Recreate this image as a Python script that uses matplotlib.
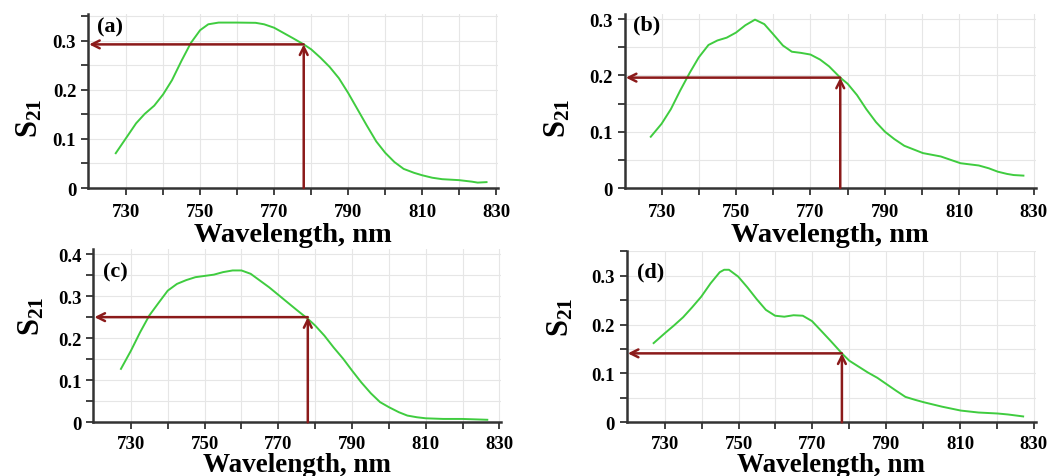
import matplotlib
matplotlib.use("Agg")
import matplotlib.pyplot as plt
from matplotlib.ticker import MultipleLocator, FixedLocator

plt.rcParams['font.family'] = ['Liberation Serif', 'DejaVu Serif']
plt.rcParams['font.weight'] = 'bold'
plt.rcParams['mathtext.fontset'] = 'custom'
plt.rcParams['mathtext.bf'] = 'Liberation Serif:bold'
plt.rcParams['mathtext.rm'] = 'Liberation Serif:bold'

# transmission spectra S21 for the four structures
wl_a = [727.2, 730, 732.7, 735, 737.6, 740, 742.4, 745, 747.5, 750, 752.2, 755, 760,
        765, 767.3, 770, 775, 778, 780, 782.5, 785, 787.5, 790, 792.5, 795, 797.6,
        800, 802.5, 805, 807.8, 810, 812.7, 815.4, 820, 823.4, 825, 827.4]
s21_a = [0.071, 0.102, 0.132, 0.151, 0.168, 0.191, 0.220, 0.260, 0.296, 0.322, 0.334,
         0.3375, 0.3375, 0.337, 0.334, 0.327, 0.306, 0.293, 0.283, 0.266, 0.247, 0.224,
         0.194, 0.161, 0.128, 0.095, 0.072, 0.053, 0.039, 0.031, 0.026, 0.021, 0.018,
         0.016, 0.013, 0.011, 0.012]

wl_b = [727.1, 730, 732.5, 735, 737.6, 740, 742.6, 745, 747.5, 750, 752.5, 755.1, 757.6,
        760, 762.6, 765, 767.4, 770, 772.6, 775, 778, 780, 782.5, 785, 787.6, 790,
        792.5, 795.2, 800.2, 805, 810.3, 815.2, 817.9, 820.3, 822.8, 824.6, 827.2]
s21_b = [0.091, 0.114, 0.140, 0.173, 0.205, 0.232, 0.254, 0.262, 0.267, 0.276, 0.289,
         0.299, 0.291, 0.273, 0.253, 0.242, 0.240, 0.237, 0.228, 0.216, 0.196, 0.185,
         0.165, 0.140, 0.117, 0.100, 0.087, 0.075, 0.062, 0.056, 0.044, 0.040, 0.035,
         0.029, 0.025, 0.023, 0.022]

wl_c = [727.3, 730, 732.5, 735, 737.6, 740, 742.5, 745, 747.5, 750, 752.5, 755, 757.6,
        760, 762.5, 765, 767.5, 770, 772.5, 775, 778, 780, 782.5, 785, 787.6, 790,
        792.5, 795.1, 797.6, 800, 802.7, 805, 807.6, 810, 814.7, 819.8, 826.7]
s21_c = [0.127, 0.170, 0.214, 0.254, 0.285, 0.313, 0.329, 0.338, 0.345, 0.348, 0.351,
         0.357, 0.361, 0.361, 0.353, 0.337, 0.321, 0.303, 0.285, 0.267, 0.246, 0.230,
         0.206, 0.178, 0.151, 0.123, 0.095, 0.069, 0.048, 0.036, 0.024, 0.016, 0.012,
         0.0095, 0.008, 0.008, 0.006]

wl_d = [727, 730, 732.5, 735, 737.4, 739.9, 742.4, 744.9, 746.1, 747.4, 749.9, 752.4,
        754.9, 757.4, 759.9, 762.4, 764.9, 767.4, 769.9, 772.4, 775, 778, 780, 782.5,
        785, 787.6, 790.1, 792.6, 795.2, 797.8, 800.2, 805.1, 810.2, 815, 820.2, 823, 827.1]
s21_d = [0.162, 0.182, 0.198, 0.215, 0.235, 0.257, 0.284, 0.307, 0.312, 0.312, 0.298,
         0.276, 0.252, 0.230, 0.218, 0.216, 0.219, 0.218, 0.207, 0.187, 0.166, 0.141,
         0.126, 0.114, 0.102, 0.091, 0.078, 0.065, 0.052, 0.046, 0.041, 0.032, 0.024,
         0.020, 0.018, 0.016, 0.012]

marker_nm = 778                       # operating wavelength
marker_s21 = [0.293, 0.196, 0.250, 0.141]
panel_tags = ['(a)', '(b)', '(c)', '(d)']
y_tops = [0.355, 0.309, 0.412, 0.351]
x_labels = [730, 750, 770, 790, 810, 830]

series = [(wl_a, s21_a), (wl_b, s21_b), (wl_c, s21_c), (wl_d, s21_d)]

# axes boxes in figure fractions (left, bottom, width, height)
boxes = [
    [88 / 1055, 1 - 189 / 477, 410 / 1055, 174 / 477],
    [624.7 / 1055, 1 - 189 / 477, 411 / 1055, 174 / 477],
    [93.3 / 1055, 1 - 423.3 / 477, 408 / 1055, 173.3 / 477],
    [626.7 / 1055, 1 - 423.3 / 477, 409 / 1055, 171.6 / 477],
]
x_lefts = [719.7, 720.1, 719.8, 719.7]
ylabel_xy = [(-0.105, 0.408), (-0.126, 0.408), (-0.114, 0.62), (-0.124, 0.62)]
tag_xy = [(0.022, 0.985), (0.02, 1.0), (0.024, 0.93), (0.025, 0.94)]
xtick_pads = [6, 6, 4, 4]
xlabel_pads = [1, 1, 0, 0]
xlabel_sizes = [20.5, 20.5, 19.5, 19.5]

fig = plt.figure(figsize=(10.55, 4.77), dpi=100)

green = '#3fcc3f'
darkred = '#8b1a1a'

for i, (wl, s21) in enumerate(series):
    ax = fig.add_axes(boxes[i])
    ax.set_xlim(x_lefts[i], 830.5)
    ax.set_ylim(0, y_tops[i])

    # light grid
    for gx in range(730, 831, 10):
        ax.axvline(gx, color='#e6e6e6', lw=0.8, zorder=0)
    gy = 0.05
    while gy < y_tops[i]:
        ax.axhline(gy, color='#e6e6e6', lw=0.8, zorder=0)
        gy += 0.05

    ax.plot(wl, s21, color=green, lw=1.4, zorder=3, solid_joinstyle='round')

    # arrows marking S21 at the operating wavelength
    ax.annotate('', xy=(marker_nm, marker_s21[i]), xytext=(marker_nm, 0),
                arrowprops=dict(arrowstyle='->', color=darkred, lw=1.8,
                                shrinkA=0, shrinkB=0, mutation_scale=14), zorder=4)
    ax.annotate('', xy=(x_lefts[i] + 0.3, marker_s21[i]), xytext=(marker_nm, marker_s21[i]),
                arrowprops=dict(arrowstyle='->', color=darkred, lw=1.8,
                                shrinkA=0, shrinkB=0, mutation_scale=14), zorder=4)

    ax.xaxis.set_major_locator(FixedLocator(x_labels))
    ax.xaxis.set_minor_locator(FixedLocator([740, 760, 780, 800, 820]))
    ax.yaxis.set_major_locator(MultipleLocator(0.1))
    ax.yaxis.set_minor_locator(MultipleLocator(0.05))
    ax.yaxis.set_major_formatter(plt.FuncFormatter(lambda v, p: '0' if v == 0 else f'{v:.1f}'))

    ax.tick_params(axis='both', which='both', direction='out', color='#333333',
                   width=1.3, length=5, labelsize=13.5)
    ax.tick_params(axis='x', which='major', pad=xtick_pads[i])
    for lab in ax.get_xticklabels() + ax.get_yticklabels():
        lab.set_fontweight('bold')

    for side in ['top', 'right']:
        ax.spines[side].set_visible(False)
    for side in ['left', 'bottom']:
        ax.spines[side].set_color('#333333')
        ax.spines[side].set_linewidth(1.8)

    ax.set_xlabel('Wavelength, nm', fontsize=xlabel_sizes[i], fontweight='bold',
                  labelpad=xlabel_pads[i])
    ax.set_ylabel(r'$\mathbf{S_{21}}$', fontsize=22)
    ax.yaxis.set_label_coords(*ylabel_xy[i])

    ax.text(tag_xy[i][0], tag_xy[i][1], panel_tags[i], transform=ax.transAxes,
            fontsize=16, fontweight='bold', va='top', ha='left')

fig.savefig('out.png', dpi=100, facecolor='white')
